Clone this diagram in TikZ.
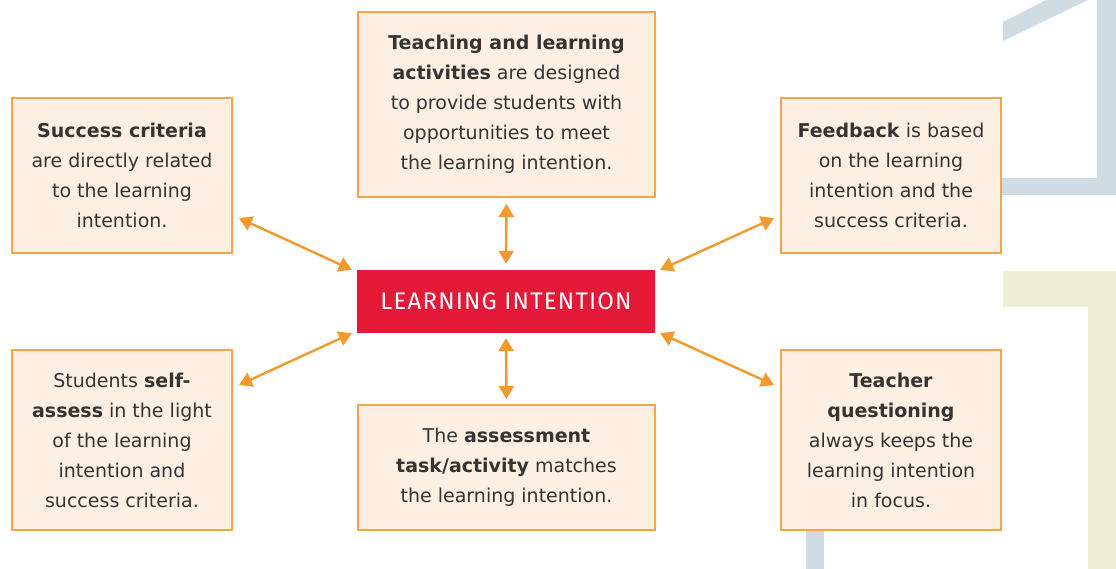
\documentclass[tikz,border=0pt]{standalone}
\usepackage{fontspec}
\setmainfont{DejaVu Sans}
\newfontfamily\capsfont[LetterSpace=5]{Fira Sans}
\usepackage{tikz}
\usetikzlibrary{arrows.meta,calc}
\usepackage{xcolor}
\definecolor{boxfill}{RGB}{253,240,226}
\definecolor{boxline}{RGB}{247,163,73}
\definecolor{arrowc}{RGB}{243,154,46}
\definecolor{intentred}{RGB}{227,25,55}
\definecolor{textgray}{RGB}{52,52,52}
\definecolor{bgblue}{RGB}{207,220,227}
\definecolor{bggreen}{RGB}{237,240,213}

\begin{document}
\begin{tikzpicture}[x=1pt,y=-1pt,
            card/.style={rectangle,draw=boxline,fill=boxfill,line width=1.8pt,inner sep=0pt,align=center,text=textgray,font=\fontsize{19}{30}\selectfont},
            narrow/.style={card,minimum width=220pt},
            wide/.style={card,minimum width=297pt},
            intent/.style={rectangle,fill=intentred,minimum width=298pt,minimum height=63pt,inner sep=0pt,text=white,font=\capsfont\fontsize{24}{28}\selectfont},
            biarrow/.style={draw=arrowc,line width=2.4pt,{Triangle[length=13pt,width=15pt]}-{Triangle[length=13pt,width=15pt]}}]

            \useasboundingbox (0,0) rectangle (1116,569);

            % background strokes
            \fill[bgblue] (1003,22) -- (1046,0) -- (1088,0) -- (1003,41) -- cycle;
            \fill[bgblue] (1097,0) rectangle (1116,195);
            \fill[bgblue] (1001,178) rectangle (1116,195);
            \fill[bgblue] (806,520) rectangle (824,569);
            \fill[bggreen] (1003,271) rectangle (1116,307);
            \fill[bggreen] (1088,307) rectangle (1116,569);

            \node (intention)[intent] at (506,301.5) {LEARNING INTENTION};

            \node (teaching)[wide,minimum height=185pt] at (506.5,104.5)
               {\textbf{Teaching and learning}\\ \textbf{activities} are designed\\to provide students with\\opportunities to meet\\the learning intention.};
            \node (task)[wide,minimum height=125pt] at (506.5,467.5)
               {The \textbf{assessment}\\ \textbf{task/activity} matches\\the learning intention.};
            \node (success)[narrow,minimum height=155pt] at (122,175.5)
               {\textbf{Success criteria}\\are directly related\\to the learning\\intention.};
            \node (feedback)[narrow,minimum height=155pt] at (891,175.5)
               {\textbf{Feedback} is based\\on the learning\\intention and the\\success criteria.};
            \node (selfassess)[narrow,minimum height=180pt] at (122,440)
               {Students \textbf{self-}\\ \textbf{assess} in the light\\of the learning\\intention and\\success criteria.};
            \node (questioning)[narrow,minimum height=180pt] at (891,440)
               {\textbf{Teacher}\\ \textbf{questioning}\\always keeps the\\learning intention\\in focus.};

            \draw[biarrow,shorten <=6pt,shorten >=6pt] (teaching.south) -- (intention.north);
            \draw[biarrow,shorten <=5pt,shorten >=5pt] (intention.south) -- (task.north);
            \draw[biarrow] ([shift={(6,42.5)}]success.east) -- ([xshift=-5pt]intention.north west);
            \draw[biarrow] ([shift={(6,-55)}]selfassess.east) -- ([xshift=-5pt]intention.south west);
            \draw[biarrow] ([shift={(-6,42.5)}]feedback.west) -- ([xshift=5pt]intention.north east);
            \draw[biarrow] ([shift={(-6,-55)}]questioning.west) -- ([xshift=5pt]intention.south east);
         \end{tikzpicture}
\end{document}
